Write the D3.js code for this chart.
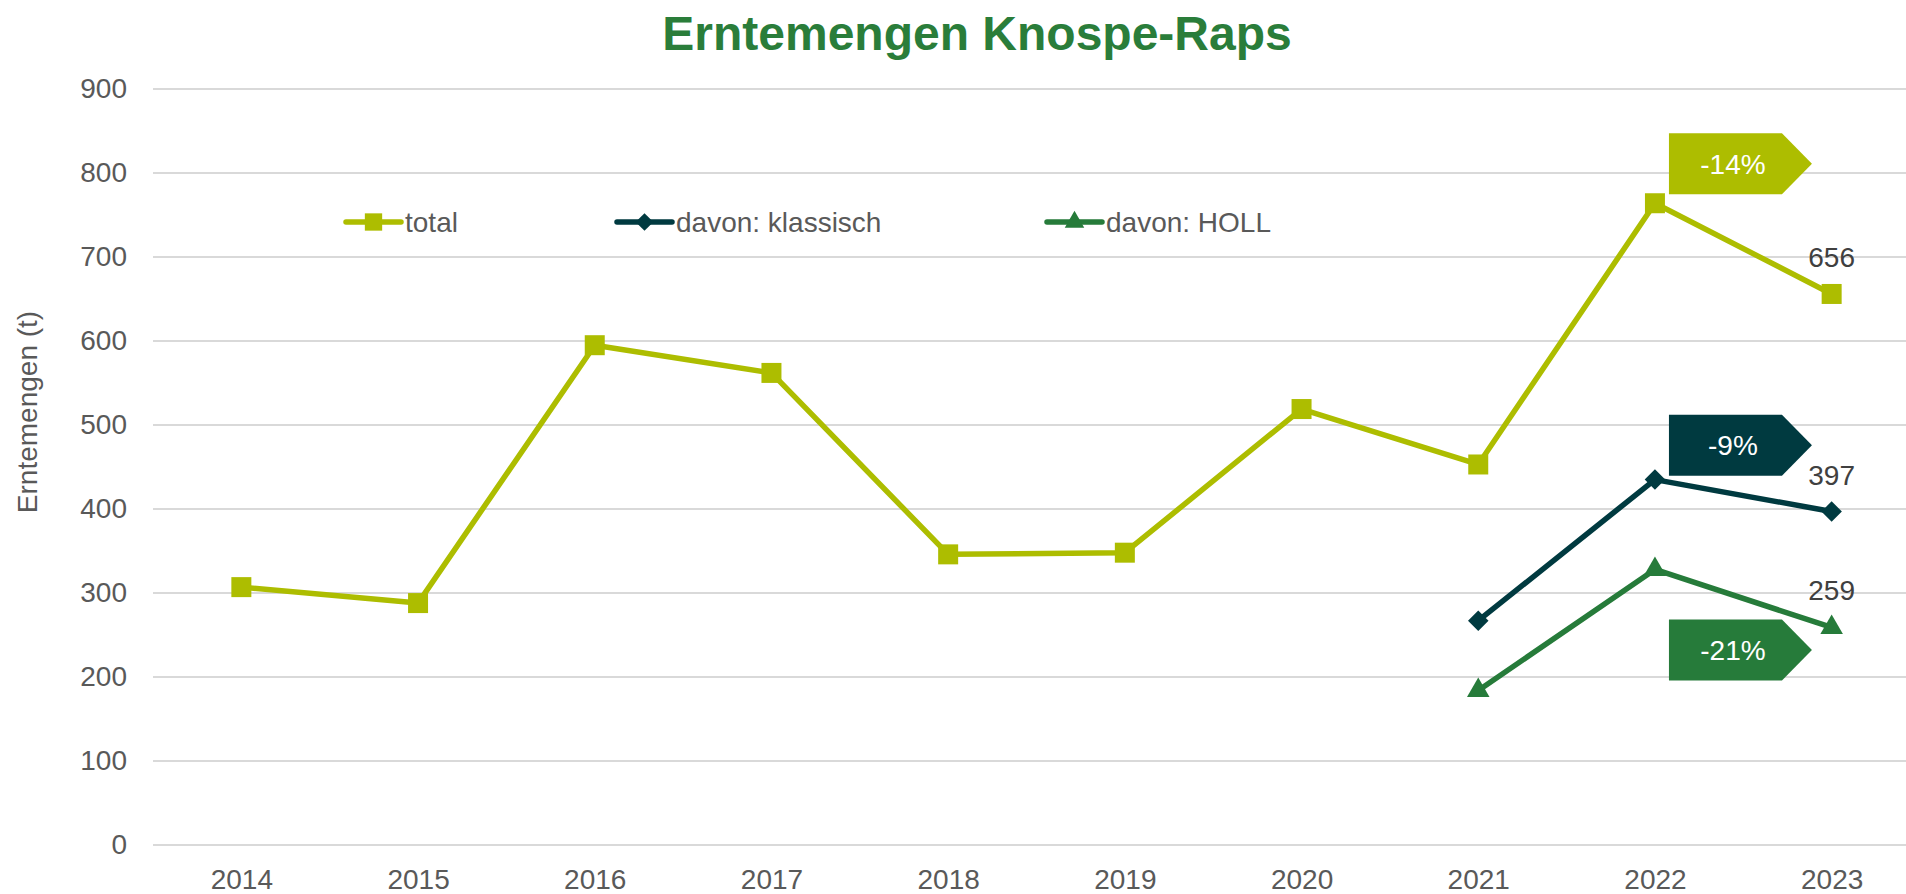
<!DOCTYPE html>
<html>
<head>
<meta charset="utf-8">
<script src="https://d3js.org/d3.v7.min.js"></script>
<style>
  body { margin: 0; background: #fff; }
  svg { font-family: "Liberation Sans", Arial, sans-serif; }
</style>
</head>
<body>
<div id="chart"></div>
<script>
// data
const years = ["2014", "2015", "2016", "2017", "2018", "2019", "2020", "2021", "2022", "2023"];
const total = [307, 288, 595, 562, 346, 348, 519, 453, 764, 656];
const klassisch = [null, null, null, null, null, null, null, 267, 435, 397];
const holl = [null, null, null, null, null, null, null, 184, 328, 259];
const yTicks = [0, 100, 200, 300, 400, 500, 600, 700, 800, 900];
const seriesNames = ["total", "davon: klassisch", "davon: HOLL"];
const changeLabels = ["-14%", "-9%", "-21%"];
const changeLevels = [811, 476, 232];   // value where each badge sits

const W = 1906, H = 894;
const margin = {top: 89, right: 0, bottom: 49, left: 153};

const colors = ["#adbd00", "#003a40", "#267b3a"];
// square, rotated square (diamond), triangle
const symbols = [d3.symbolSquare, d3.symbolSquare, d3.symbolTriangle];
const symRot = [0, 45, 0];
const symSizes = [400, 210, 220];

const svg = d3.select("#chart").append("svg")
    .attr("width", W).attr("height", H);

const x = d3.scalePoint()
    .domain(years)
    .range([margin.left, 1920])
    .padding(0.5);

const y = d3.scaleLinear()
    .domain([0, 900])
    .range([H - margin.bottom, margin.top]);

// title
svg.append("text")
    .attr("x", 977).attr("y", 50)
    .attr("text-anchor", "middle")
    .attr("font-size", 48).attr("font-weight", "bold")
    .attr("fill", "#2a7d3a")
    .text("Erntemengen Knospe-Raps");

// gridlines
svg.append("g")
    .selectAll("line").data(yTicks).join("line")
    .attr("x1", margin.left).attr("x2", W - margin.right)
    .attr("y1", d => y(d)).attr("y2", d => y(d))
    .attr("stroke", "#d9d9d9").attr("stroke-width", 2);

// y axis
const yAxis = svg.append("g")
    .attr("transform", `translate(${margin.left},0)`)
    .call(d3.axisLeft(y).tickValues(yTicks).tickSize(0).tickPadding(26));
yAxis.select(".domain").remove();
yAxis.selectAll("text").attr("font-size", 28).attr("fill", "#595959")
    .attr("font-family", "Liberation Sans, Arial, sans-serif");

// x axis
const xAxis = svg.append("g")
    .attr("transform", `translate(0,${H - margin.bottom})`)
    .call(d3.axisBottom(x).tickSize(0).tickPadding(24));
xAxis.select(".domain").remove();
xAxis.selectAll("text").attr("font-size", 28).attr("fill", "#595959")
    .attr("font-family", "Liberation Sans, Arial, sans-serif");

// y axis title
svg.append("text")
    .attr("transform", "translate(37,412) rotate(-90)")
    .attr("text-anchor", "middle")
    .attr("font-size", 28).attr("fill", "#595959")
    .text("Erntemengen (t)");

// lines
const allSeries = [total, klassisch, holl];
const line = d3.line()
    .defined(d => d.v != null)
    .x(d => x(d.year)).y(d => y(d.v));

allSeries.forEach((vals, i) => {
  const pts = years.map((yr, j) => ({year: yr, v: vals[j]}));
  svg.append("path")
      .datum(pts)
      .attr("d", line)
      .attr("fill", "none")
      .attr("stroke", colors[i])
      .attr("stroke-width", 5.5)
      .attr("stroke-linejoin", "round");
  svg.append("g").selectAll("path")
      .data(pts.filter(d => d.v != null)).join("path")
      .attr("transform", d => `translate(${x(d.year)},${y(d.v)}) rotate(${symRot[i]})`)
      .attr("d", d3.symbol(symbols[i], symSizes[i]))
      .attr("fill", colors[i]);

  // last value label
  const last = pts[pts.length - 1];
  svg.append("text")
      .attr("x", x(last.year)).attr("y", y(last.v) - 27)
      .attr("text-anchor", "middle")
      .attr("font-size", 28).attr("fill", "#404040")
      .text(last.v);
});

// change badges (pentagon arrows)
changeLabels.forEach((lab, i) => {
  const left = x("2022") + 14;
  const rectW = 113, tipW = 30, h = 61;
  const cy = y(changeLevels[i]);
  const top = cy - h / 2;
  svg.append("path")
      .attr("d", `M${left},${top}H${left + rectW}L${left + rectW + tipW},${cy}L${left + rectW},${top + h}H${left}Z`)
      .attr("fill", colors[i]);
  svg.append("text")
      .attr("x", left + 64).attr("y", cy + 10)
      .attr("text-anchor", "middle")
      .attr("font-size", 28).attr("fill", "#fff")
      .text(lab);
});

// legend
const legendX = [346, 617, 1047];
const legendY = 222;
seriesNames.forEach((name, i) => {
  const g = svg.append("g");
  g.append("line")
      .attr("x1", legendX[i]).attr("x2", legendX[i] + 55)
      .attr("y1", legendY).attr("y2", legendY)
      .attr("stroke", colors[i]).attr("stroke-width", 5.5)
      .attr("stroke-linecap", "round");
  g.append("path")
      .attr("transform", `translate(${legendX[i] + 27.5},${legendY}) rotate(${symRot[i]})`)
      .attr("d", d3.symbol(symbols[i], symSizes[i] * 0.75))
      .attr("fill", colors[i]);
  g.append("text")
      .attr("x", legendX[i] + 59).attr("y", legendY + 10)
      .attr("font-size", 28).attr("fill", "#595959")
      .text(name);
});
</script>
</body>
</html>
